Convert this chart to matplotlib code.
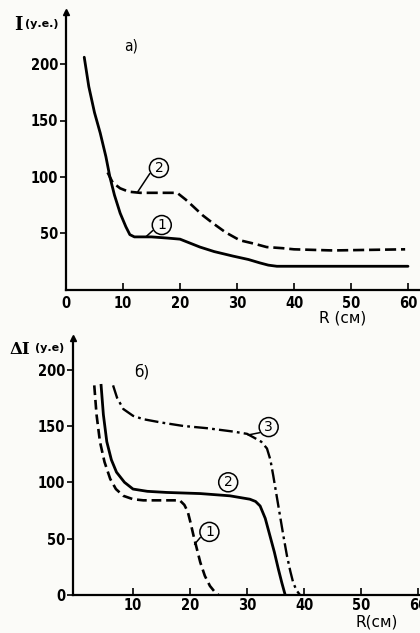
import matplotlib
matplotlib.use("Agg")
import matplotlib.pyplot as plt

plt.rcParams['font.family'] = ['DejaVu Sans']
plt.rcParams['lines.scale_dashes'] = False

# ---- panel a) ----
a_r1 = [3.2, 4.0, 5.0, 6.0, 7.0, 7.7, 8.5, 9.5, 10.5, 11.2, 12.0, 13.0, 15.0, 17.7, 20.0, 21.5, 23.5, 26.0, 29.3, 32.0, 34.0, 35.5, 37.0, 45.0, 60.0]
a_i1 = [206, 180, 157, 139, 118, 100, 84, 68, 56, 49, 47, 47, 47, 46, 45, 42, 38, 34, 30, 27, 24, 22, 21, 21, 21]
a_r2 = [7.3, 8.2, 9.5, 11.0, 13.0, 16.0, 19.5, 21.0, 22.3, 24.0, 25.8, 28.0, 30.5, 33.0, 35.2, 38.0, 40.0, 46.8, 59.5]
a_i2 = [104, 95, 90, 87, 86, 86, 86, 80, 74, 66, 59, 51, 44, 41, 38, 37, 36, 35, 36]
a_xticks = [0, 10, 20, 30, 40, 50, 60]
a_yticks = [50, 100, 150, 200]

# ---- panel б) ----
b_r1 = [3.2, 3.6, 4.2, 5.0, 6.0, 7.0, 8.3, 10.0, 11.8, 15.0, 18.2, 19.0, 19.6, 20.1, 20.6, 21.2, 21.8, 22.6, 23.5, 24.3, 25.0]
b_i1 = [186, 160, 136, 118, 103, 94, 88, 85, 84, 84, 84, 80, 74, 64, 53, 41, 29, 17, 8, 3, 0]
b_r2 = [4.4, 4.8, 5.4, 6.2, 7.1, 8.5, 10.0, 12.5, 15.9, 21.8, 27.0, 30.5, 31.5, 32.3, 33.2, 34.0, 34.8, 35.5, 36.1, 36.7]
b_i2 = [186, 160, 136, 120, 109, 100, 94, 92, 91, 90, 88, 85, 83, 79, 68, 53, 38, 23, 11, 0]
b_r3 = [6.5, 7.2, 8.3, 10.0, 11.8, 15.0, 18.8, 23.0, 27.6, 30.0, 31.1, 32.5, 33.5, 34.1, 34.6, 35.2, 35.8, 36.4, 37.0, 37.6, 38.1, 38.7, 39.3]
b_i3 = [186, 175, 165, 159, 156, 153, 150, 148, 145, 143, 140, 136, 130, 120, 106, 88, 70, 52, 35, 21, 11, 4, 0]
b_xticks = [10, 20, 30, 40, 50, 60]
b_yticks = [0, 50, 100, 150, 200]

BG = '#fbfbf8'
fig = plt.figure(figsize=(4.2, 6.33), dpi=100, facecolor=BG)

def style(ax, xticks, yticks, xlim, ylim, xpad):
    ax.set_facecolor('none')
    for s in ('top', 'right'):
        ax.spines[s].set_visible(False)
    for s in ('left', 'bottom'):
        ax.spines[s].set_linewidth(1.6)
    ax.set_xlim(*xlim)
    ax.set_ylim(*ylim)
    ax.set_xticks(xticks)
    ax.set_yticks(yticks)
    ax.tick_params(axis='x', direction='in', length=5, width=1.2, pad=xpad, labelsize=10.5)
    ax.tick_params(axis='y', direction='out', length=4, width=1.2, pad=1.5, labelsize=10.5)
    for lab in ax.get_xticklabels() + ax.get_yticklabels():
        lab.set_fontweight('bold')
        lab.set_fontstretch('condensed')
    # arrow at top of y axis
    ax.plot([xlim[0]], [ylim[1]], marker='^', color='k', markersize=5, clip_on=False)

def circ(ax, txt, x, y, lx=None, ly=None):
    ax.text(x, y, txt, ha='center', va='center', fontsize=10,
            bbox=dict(boxstyle='circle,pad=0.18', fc='none', ec='k', lw=1.1))
    if lx is not None:
        ax.annotate('', xy=(lx, ly), xytext=(x - 1.6, y - 5),
                    arrowprops=dict(arrowstyle='-', lw=1.1, color='k', shrinkA=0, shrinkB=0))

# panel a
ax1 = fig.add_axes([66/420, 1-290/633, (419-66)/420, 278/633])
style(ax1, a_xticks, a_yticks, (0, 353/5.7), (0, 278/1.13), 4)
ax1.plot(a_r1, a_i1, color='k', lw=2.0, solid_capstyle='round')
ax1.plot(a_r2, a_i2, color='k', lw=1.9, dashes=(8, 3.5))
circ(ax1, '2', 16.3, 108, 12.6, 87)
circ(ax1, '1', 16.8, 57.5, 14.0, 47)
ax1.text(11.5, 216, 'a)', fontsize=11, ha='center', va='center', fontstretch='condensed')
fig.text(14/420, 1-25/633, 'I', fontsize=13, fontweight='bold', family='DejaVu Serif', va='center')
fig.text(25/420, 1-24/633, '(у.е.)', fontsize=8, va='center', fontweight='bold')
fig.text(343/420, 1-318/633, 'R (см)', fontsize=11, ha='center', va='center')

# panel б
ax2 = fig.add_axes([73/420, 1-595/633, (420-73)/420, 257/633])
style(ax2, b_xticks, b_yticks, (-0.53, 60.35), (0, 257/1.127), 2.5)
ax2.plot(b_r1, b_i1, color='k', lw=1.9, dashes=(7, 3.5))
ax2.plot(b_r2, b_i2, color='k', lw=2.0)
ax2.plot(b_r3, b_i3, color='k', lw=1.7, dashes=(10, 3, 2, 3))
circ(ax2, '3', 33.8, 149, 30.2, 142)
circ(ax2, '2', 26.7, 100)
circ(ax2, '1', 23.4, 56, 20.8, 45)
ax2.text(11.5, 198, 'б)', fontsize=11, ha='center', va='center')
fig.text(10/420, 1-349/633, 'ΔI', fontsize=12, fontweight='bold', family='DejaVu Serif', va='center')
fig.text(35/420, 1-348/633, '(у.е)', fontsize=8, va='center', fontweight='bold')
fig.text(377/420, 1-622/633, 'R(см)', fontsize=11, ha='center', va='center')

fig.savefig('out.png', dpi=100, facecolor=BG)
